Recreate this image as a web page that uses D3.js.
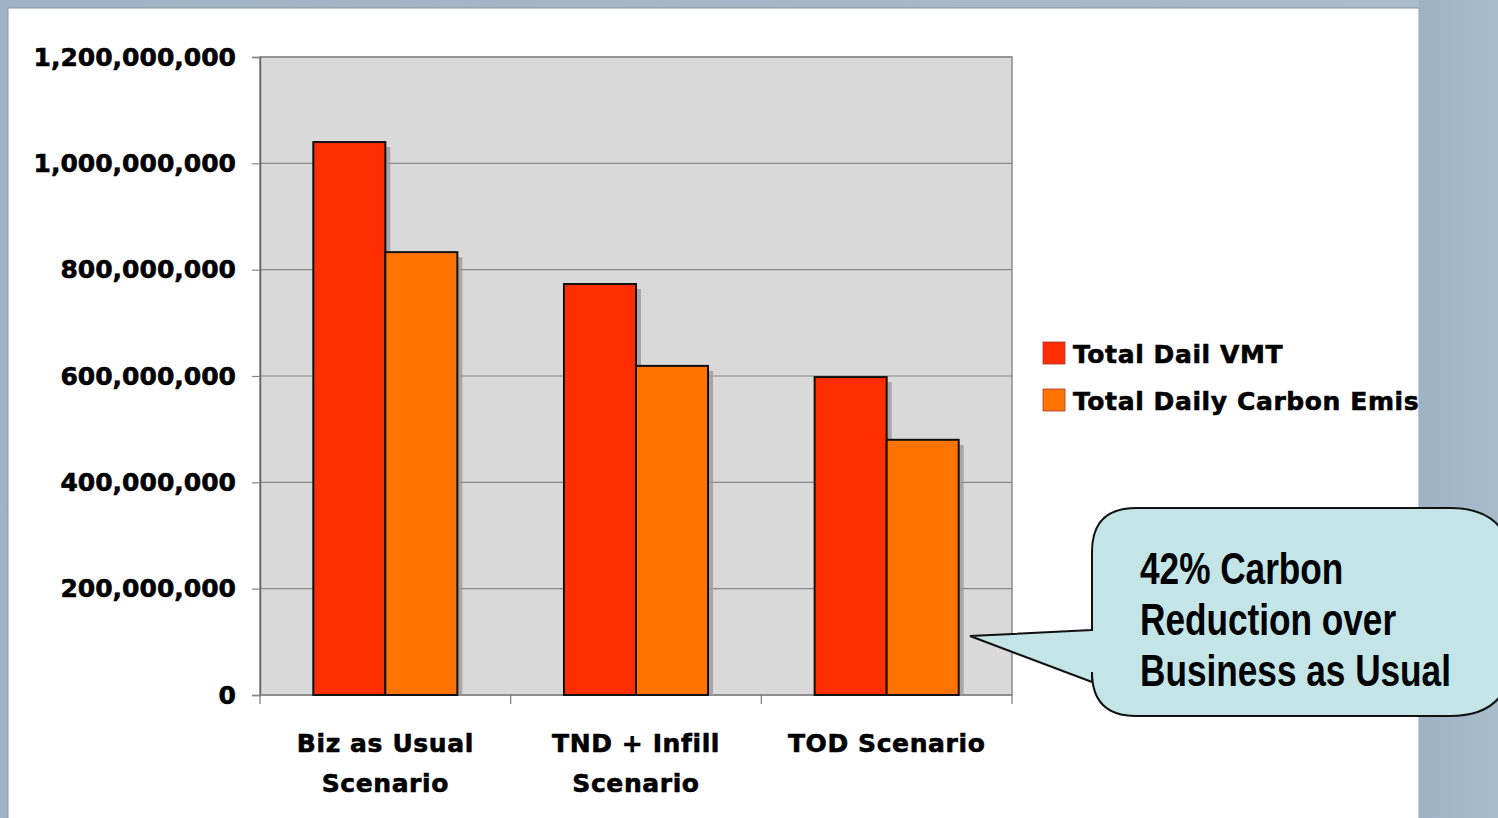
<!DOCTYPE html>
<html><head><meta charset="utf-8">
<script src="https://cdn.jsdelivr.net/npm/d3@7/dist/d3.min.js"></script>
<style>html,body{margin:0;padding:0;overflow:hidden;background:#a8bbca;}</style>
</head><body>
<script>
const categories = [["Biz as Usual","Scenario"],["TND + Infill","Scenario"],["TOD Scenario"]];
const categoryKeys = ["Biz as Usual Scenario","TND + Infill Scenario","TOD Scenario"];
const seriesNames = ["Total Dail VMT","Total Daily Carbon Emis"];
const vmtValues = [1040000000, 773000000, 598000000];
const carbonValues = [833000000, 619000000, 480000000];
const yTicks = [0, 200000000, 400000000, 600000000, 800000000, 1000000000, 1200000000];
const calloutLines = ["42% Carbon","Reduction over","Business as Usual"];
const colors = ["#ff2e00","#ff7400"];

const W = 1498, H = 818;
const svg = d3.select("body").append("svg").attr("width", W).attr("height", H);
const FONT = "'DejaVu Sans', Verdana, sans-serif";

// background
const defs = svg.append("defs");
const g0 = defs.append("linearGradient").attr("id","bg").attr("x1",0).attr("x2",1).attr("y1",0).attr("y2",0);
g0.append("stop").attr("offset","0%").attr("stop-color","#9fb3c6");
g0.append("stop").attr("offset","100%").attr("stop-color","#a9bccb");
svg.append("rect").attr("width",W).attr("height",H).attr("fill","url(#bg)");
svg.append("rect").attr("x",8).attr("y",8).attr("width",1411).attr("height",H).attr("fill","#ffffff").attr("stroke","#8a96a0").attr("stroke-width",1);

const plot = {l:260, r:1012, t:57, b:695};
const x0 = d3.scaleBand().domain(categoryKeys).range([plot.l, plot.r]).paddingInner(0).paddingOuter(0);
const x1 = d3.scaleBand().domain(seriesNames).range([0, x0.bandwidth()]).paddingOuter(0.74).paddingInner(0);
const y = d3.scaleLinear().domain([0, 1200000000]).range([plot.b, plot.t]);

svg.append("rect").attr("x",plot.l).attr("y",plot.t).attr("width",plot.r-plot.l).attr("height",plot.b-plot.t)
  .attr("fill","#d9d9d9").attr("stroke","#8c8c8c").attr("stroke-width",1.5);

// gridlines
svg.append("g").selectAll("line").data(yTicks.slice(1)).join("line")
  .attr("x1",plot.l).attr("x2",plot.r).attr("y1",d=>y(d)).attr("y2",d=>y(d))
  .attr("stroke","#888").attr("stroke-width",1.2);

// y axis
const yAxis = svg.append("g").attr("transform",`translate(${plot.l},0)`)
  .call(d3.axisLeft(y).tickValues(yTicks).tickSize(8).tickPadding(16).tickFormat(d3.format(",")));
yAxis.select(".domain").attr("stroke","#666").attr("stroke-width",1.5);
yAxis.selectAll(".tick line").attr("stroke","#888").attr("stroke-width",1.2);
yAxis.selectAll("text").attr("font-family",FONT).attr("font-weight","bold")
  .attr("font-size",25).attr("fill","#000").attr("stroke","#000").attr("stroke-width",0.6);

// x axis
const xAxis = svg.append("g").attr("transform",`translate(0,${plot.b})`);
xAxis.append("line").attr("x1",plot.l).attr("x2",plot.r).attr("stroke","#888").attr("stroke-width",1.5);
const bounds = categoryKeys.map(k=>x0(k)).concat([plot.r]);
xAxis.selectAll("line.tk").data(bounds).join("line").attr("class","tk")
  .attr("x1",d=>d).attr("x2",d=>d).attr("y1",0).attr("y2",9).attr("stroke","#777").attr("stroke-width",1.2);
const xl = xAxis.selectAll("text").data(categories).join("text")
  .attr("x",(d,i)=>x0(categoryKeys[i])+x0.bandwidth()/2).attr("y",57)
  .attr("text-anchor","middle").attr("font-family",FONT)
  .attr("font-weight","bold").attr("font-size",25).attr("letter-spacing",0.6).attr("fill","#000")
  .attr("stroke","#000").attr("stroke-width",0.6);
xl.selectAll("tspan").data(d=>d).join("tspan")
  .attr("x",function(){return this.parentNode.getAttribute("x");}).attr("dy",(d,i)=>i===0?0:40).text(d=>d);

// bars
const data = categoryKeys.map((k,i)=>({k, vals:[vmtValues[i], carbonValues[i]]}));
const grp = svg.append("g").selectAll("g").data(data).join("g").attr("transform",d=>`translate(${x0(d.k)},0)`);
const cells = d => d.vals.map((v,j)=>({name:seriesNames[j], v, j}));
grp.selectAll("rect.sh").data(cells).join("rect").attr("class","sh")
  .attr("x",d=>x1(d.name)+5).attr("y",d=>y(d.v)+5).attr("width",x1.bandwidth())
  .attr("height",d=>plot.b-y(d.v)-5).attr("fill","#9a9a9a").attr("opacity",0.8);
grp.selectAll("rect.bar").data(cells).join("rect").attr("class","bar")
  .attr("x",d=>x1(d.name)).attr("y",d=>y(d.v)).attr("width",x1.bandwidth())
  .attr("height",d=>plot.b-y(d.v)).attr("fill",d=>colors[d.j]).attr("stroke","#111").attr("stroke-width",2);

// legend
const lg = svg.append("g").selectAll("g").data(seriesNames).join("g")
  .attr("transform",(d,i)=>`translate(1043,${342+i*47})`);
lg.append("rect").attr("width",22).attr("height",22).attr("fill",(d,i)=>colors[i]).attr("stroke","#a33").attr("stroke-width",0.8);
lg.append("text").attr("x",30).attr("y",21).text(d=>d)
  .attr("font-family",FONT).attr("font-weight","bold").attr("font-size",25).attr("letter-spacing",0.6)
  .attr("fill","#000").attr("stroke","#000").attr("stroke-width",0.6);

// cover legend overflow outside the panel
svg.append("rect").attr("x",1419).attr("y",0).attr("width",W-1419).attr("height",H).attr("fill","url(#bg)");

// callout
const cx0=1092, cy0=508, cx1=1512, cy1=716, r=44, rr=62;
const path = d3.path();
path.moveTo(cx0, 630);
path.lineTo(970, 636);
path.lineTo(cx0, 682);
path.lineTo(cx0, cy1-r);
path.quadraticCurveTo(cx0, cy1, cx0+r, cy1);
path.lineTo(cx1-rr, cy1);
path.quadraticCurveTo(cx1, cy1, cx1, cy1-rr);
path.lineTo(cx1, cy0+rr);
path.quadraticCurveTo(cx1, cy0, cx1-rr, cy0);
path.lineTo(cx0+r, cy0);
path.quadraticCurveTo(cx0, cy0, cx0, cy0+r);
path.closePath();
svg.append("path").attr("d",path.toString()).attr("fill","#c3e5e8").attr("stroke","#111").attr("stroke-width",2);
svg.append("g").attr("transform","translate(1140,0) scale(0.8,1)")
  .selectAll("text").data(calloutLines).join("text")
  .attr("x",0).attr("y",(d,i)=>584+i*51).text(d=>d)
  .attr("font-family","'Liberation Sans', Arial, sans-serif")
  .attr("font-weight","bold").attr("font-size",44).attr("fill","#000");
</script>
</body></html>
